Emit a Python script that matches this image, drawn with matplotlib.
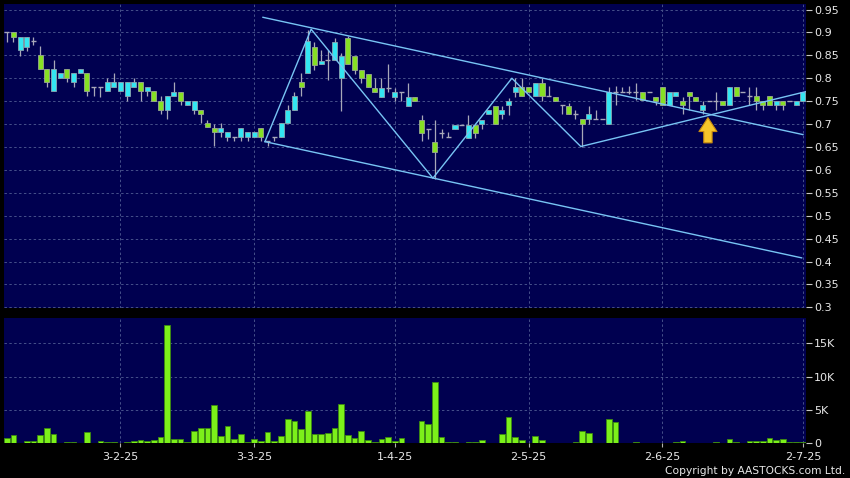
import numpy as np
import matplotlib
matplotlib.use('Agg')
import matplotlib.pyplot as plt

# ── daily candles (index = trading day) ──
opens = [0.90, 0.90, 0.861, 0.869, 0.881, 0.85, 0.82, 0.772, 0.80, 0.82,
         0.791, 0.811, 0.811, 0.781, 0.781, 0.772, 0.781, 0.772, 0.761, 0.781,
         0.791, 0.772, 0.772, 0.751, 0.731, 0.761, 0.771, 0.742, 0.731, 0.731,
         0.702, 0.691, 0.683, 0.672, 0.672, 0.672, 0.672, 0.672, 0.691, 0.662,
         0.672, 0.672, 0.702, 0.731, 0.791, 0.811, 0.869, 0.83, 0.84, 0.84,
         0.80, 0.888, 0.849, 0.819, 0.81, 0.779, 0.76, 0.779, 0.76, 0.77,
         0.74, 0.76, 0.709, 0.69, 0.661, 0.68, 0.671, 0.69, 0.699, 0.67,
         0.699, 0.70, 0.721, 0.74, 0.721, 0.741, 0.771, 0.78, 0.78, 0.761,
         0.79, 0.761, 0.76, 0.741, 0.74, 0.721, 0.71, 0.71, 0.71, 0.71,
         0.701, 0.771, 0.771, 0.771, 0.771, 0.771, 0.771, 0.76, 0.78, 0.741,
         0.761, 0.751, 0.771, 0.76, 0.731, 0.751, 0.751, 0.751, 0.741, 0.78,
         0.771, 0.761, 0.761, 0.751, 0.761, 0.741, 0.751, 0.751, 0.741, 0.751]
highs = [0.90, 0.90, 0.889, 0.889, 0.89, 0.87, 0.82, 0.84, 0.811, 0.82,
         0.811, 0.82, 0.811, 0.781, 0.781, 0.80, 0.811, 0.791, 0.791, 0.80,
         0.791, 0.781, 0.772, 0.761, 0.761, 0.791, 0.771, 0.751, 0.751, 0.731,
         0.709, 0.70, 0.702, 0.683, 0.672, 0.691, 0.683, 0.683, 0.691, 0.662,
         0.672, 0.702, 0.742, 0.77, 0.811, 0.905, 0.88, 0.862, 0.862, 0.888,
         0.854, 0.893, 0.849, 0.819, 0.81, 0.80, 0.80, 0.83, 0.779, 0.77,
         0.79, 0.76, 0.72, 0.69, 0.709, 0.69, 0.683, 0.699, 0.699, 0.72,
         0.699, 0.709, 0.73, 0.74, 0.74, 0.757, 0.80, 0.80, 0.78, 0.79,
         0.80, 0.782, 0.76, 0.741, 0.745, 0.73, 0.71, 0.74, 0.73, 0.71,
         0.78, 0.782, 0.78, 0.782, 0.79, 0.771, 0.771, 0.76, 0.78, 0.771,
         0.771, 0.76, 0.771, 0.76, 0.751, 0.751, 0.771, 0.751, 0.78, 0.78,
         0.771, 0.78, 0.78, 0.751, 0.761, 0.751, 0.751, 0.751, 0.751, 0.771]
lows = [0.88, 0.88, 0.849, 0.859, 0.872, 0.82, 0.78, 0.772, 0.80, 0.791,
        0.78, 0.811, 0.761, 0.761, 0.76, 0.772, 0.781, 0.772, 0.751, 0.781,
        0.751, 0.761, 0.751, 0.722, 0.712, 0.761, 0.742, 0.742, 0.722, 0.702,
        0.693, 0.653, 0.672, 0.662, 0.662, 0.662, 0.662, 0.672, 0.662, 0.653,
        0.662, 0.672, 0.702, 0.731, 0.762, 0.811, 0.818, 0.83, 0.796, 0.84,
        0.728, 0.83, 0.81, 0.79, 0.78, 0.771, 0.76, 0.771, 0.75, 0.75,
        0.74, 0.751, 0.664, 0.668, 0.58, 0.67, 0.671, 0.69, 0.699, 0.67,
        0.669, 0.69, 0.721, 0.701, 0.71, 0.72, 0.76, 0.761, 0.771, 0.761,
        0.75, 0.761, 0.751, 0.721, 0.721, 0.711, 0.651, 0.70, 0.71, 0.71,
        0.701, 0.741, 0.771, 0.765, 0.753, 0.752, 0.771, 0.741, 0.741, 0.741,
        0.761, 0.721, 0.73, 0.751, 0.721, 0.751, 0.731, 0.741, 0.741, 0.761,
        0.771, 0.741, 0.73, 0.73, 0.741, 0.73, 0.73, 0.751, 0.741, 0.751]
closes = [0.90, 0.889, 0.889, 0.889, 0.881, 0.82, 0.791, 0.82, 0.811, 0.80,
          0.811, 0.82, 0.772, 0.781, 0.781, 0.791, 0.791, 0.791, 0.791, 0.791,
          0.772, 0.781, 0.751, 0.731, 0.761, 0.771, 0.751, 0.751, 0.751, 0.722,
          0.693, 0.683, 0.691, 0.683, 0.672, 0.691, 0.683, 0.683, 0.672, 0.662,
          0.672, 0.702, 0.731, 0.761, 0.781, 0.881, 0.829, 0.838, 0.84, 0.879,
          0.849, 0.83, 0.819, 0.80, 0.78, 0.771, 0.779, 0.779, 0.77, 0.77,
          0.76, 0.751, 0.68, 0.69, 0.64, 0.68, 0.671, 0.699, 0.699, 0.699,
          0.68, 0.709, 0.73, 0.701, 0.73, 0.751, 0.78, 0.761, 0.771, 0.79,
          0.761, 0.761, 0.751, 0.741, 0.721, 0.721, 0.701, 0.721, 0.71, 0.71,
          0.771, 0.771, 0.771, 0.771, 0.771, 0.752, 0.771, 0.751, 0.741, 0.771,
          0.771, 0.741, 0.761, 0.751, 0.741, 0.751, 0.751, 0.741, 0.78, 0.761,
          0.771, 0.761, 0.751, 0.741, 0.741, 0.751, 0.741, 0.751, 0.751, 0.771]
# volume in thousands of shares
volume_k = [0.75, 1.2, 0.1, 0.3, 0.3, 1.2, 2.25, 1.35, 0.1, 0.2,
            0.15, 0.1, 1.75, 0.1, 0.3, 0.15, 0.15, 0.05, 0.15, 0.3,
            0.45, 0.35, 0.5, 0.95, 17.7, 0.6, 0.65, 0.15, 1.9, 2.25,
            2.25, 5.7, 1.1, 2.65, 0.65, 1.35, 0.15, 0.6, 0.3, 1.65,
            0.3, 1.15, 3.65, 3.35, 2.1, 4.9, 1.35, 1.35, 1.5, 2.25,
            5.85, 1.3, 0.85, 1.8, 0.45, 0.2, 0.6, 0.95, 0.3, 0.8,
            0.1, 0.1, 3.4, 2.85, 9.2, 1.0, 0.15, 0.25, 0.02, 0.15,
            0.15, 0.45, 0.1, 0.05, 1.45, 4.0, 0.95, 0.45, 0.02, 1.1,
            0.5, 0.1, 0.05, 0.1, 0.1, 0.2, 1.85, 1.6, 0.1, 0.02,
            3.65, 3.2, 0.02, 0.05, 0.25, 0.1, 0.05, 0.05, 0.05, 0.05,
            0.15, 0.35, 0.05, 0.05, 0.05, 0.02, 0.25, 0.1, 0.65, 0.15,
            0.05, 0.35, 0.4, 0.3, 0.75, 0.5, 0.6, 0.15, 0.15, 0.15]

tick_idx = [17, 37, 58, 78, 98, 119]
tick_lbl = ['3-2-25', '3-3-25', '1-4-25', '2-5-25', '2-6-25', '2-7-25']
price_ticks = [0.3, 0.35, 0.4, 0.45, 0.5, 0.55, 0.6, 0.65, 0.7, 0.75, 0.8, 0.85, 0.9, 0.95]
vol_ticks = [0, 5, 10, 15]
vol_tick_lbl = ['0', '5K', '10K', '15K']

# trend lines drawn on the chart (day index, price)
upper_x = [38.3, 119.0]
upper_y = [0.933, 0.677]
lower_x = [38.6, 118.8]
lower_y = [0.6616, 0.408]
zig_x = [38.6, 45.5, 63.7, 75.5, 85.8, 119.5]
zig_y = [0.6616, 0.907, 0.582, 0.80, 0.651, 0.771]
arrow_x = 104.8
arrow_base, arrow_tip = 0.659, 0.714

BG = '#000000'
NAVY = '#000050'
CYAN = '#33e6f2'
GREEN = '#86e024'
WICK = '#a8a8b8'
GRID = '#46508a'
LINE = '#78c4f4'
TXT = '#e8e8e8'

o = np.array(opens); h = np.array(highs); l = np.array(lows); c = np.array(closes)
x = np.arange(len(o))

fig = plt.figure(figsize=(8.5, 4.78), dpi=100, facecolor=BG)
ax = fig.add_axes([0.0047, 0.3556, 0.9435, 0.636])
axv = fig.add_axes([0.0047, 0.0722, 0.9435, 0.2615])

for a in (ax, axv):
    a.set_facecolor(NAVY)
    for s in a.spines.values():
        s.set_visible(False)
    a.set_xlim(-0.4, 119.45)
    a.set_xticks(tick_idx)
    a.grid(True, color=GRID, ls=(0, (2.5, 2.5)), lw=0.7)
    a.set_axisbelow(True)
    a.yaxis.tick_right()
    a.tick_params(axis='y', colors='#c8c8c8', labelcolor=TXT, length=4,
                  width=0.8, labelsize=8, pad=2)

# ── price panel ──
ax.set_ylim(0.2985, 0.962)
ax.set_yticks(price_ticks)
ax.set_yticklabels([f'{v:g}' for v in price_ticks])
ax.tick_params(axis='x', length=0, labelbottom=False)

ax.vlines(x, l, h, color=WICK, lw=0.9, zorder=2)
up = c > o
dn = c < o
flat = c == o
w = 0.75
ax.bar(x[up], (c - o)[up], bottom=o[up], width=w, color=CYAN,
       edgecolor='#8aa6b0', lw=0.6, zorder=3)
ax.bar(x[dn], (o - c)[dn], bottom=c[dn], width=w, color=GREEN,
       edgecolor='#9aa890', lw=0.6, zorder=3)
ax.hlines(c[flat], x[flat] - w / 2, x[flat] + w / 2, color=WICK, lw=1.0, zorder=3)

ax.plot(upper_x, upper_y, color=LINE, lw=1.0, zorder=4)
ax.plot(lower_x, lower_y, color=LINE, lw=1.0, zorder=4)
ax.plot(zig_x, zig_y, color=LINE, lw=1.0, zorder=4)

ax.annotate('', xy=(arrow_x, arrow_tip), xytext=(arrow_x, arrow_base),
            arrowprops=dict(arrowstyle='simple,head_width=1.3,head_length=1.0,tail_width=0.6',
                            fc='#f7c62a', ec='#c88a10', lw=0.8,
                            shrinkA=0, shrinkB=0), zorder=5)

# ── volume panel ──
axv.set_ylim(0, 18.75)
axv.set_yticks(vol_ticks)
axv.set_yticklabels(vol_tick_lbl)
axv.bar(x, volume_k, width=0.85, color='#7cf01a', edgecolor='#3c8a10', lw=0.6, zorder=3)
axv.set_xticklabels(tick_lbl)
axv.tick_params(axis='x', colors='#b0b0b0', labelcolor=TXT, length=3,
                width=0.8, labelsize=8, pad=3)

fig.text(0.994, 0.0146, 'Copyright by AASTOCKS.com Ltd.', color=TXT,
         fontsize=7.7, ha='right', va='center')

fig.savefig('out.png', dpi=100, facecolor=BG)
